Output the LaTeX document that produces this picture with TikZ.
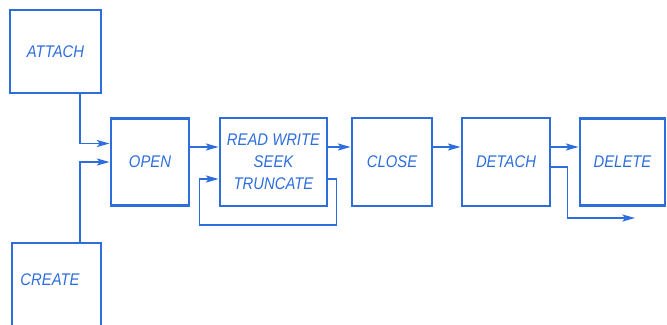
\documentclass[tikz,border=0pt]{standalone}
\usepackage{fontspec}
\newfontfamily\handfont[FakeStretch=0.88]{Liberation Sans}
\usetikzlibrary{arrows.meta}
\definecolor{inkblue}{RGB}{45,110,220}

\begin{document}
\begin{tikzpicture}[x=0.025cm,y=-0.025cm]
    \tikzstyle{every node}=[font=\handfont\itshape\fontsize{12}{15.5}\selectfont, text=inkblue]
    \tikzstyle{blockbox}=[draw=inkblue, line width=2pt, inner sep=0pt, align=center]
    \tikzstyle{flowarrow}=[draw=inkblue, line width=1.3pt, -{Stealth[length=9pt,width=5pt,inset=2pt]}]

    \useasboundingbox (0,0) rectangle (667,324);

    % Sources (ATTACH, CREATE)
    \node[blockbox, minimum width=2.275cm, minimum height=2.075cm] (attach) at (55.5,51.5) {ATTACH};
    \node[blockbox, minimum width=2.225cm, minimum height=2.3cm] (create) at (56.5,289) {};
    \node (createlbl) at (50,280) {CREATE};

    % Main row (OPEN to DELETE)
    \node[blockbox, minimum width=1.95cm, minimum height=2.175cm] (open) at (150,162) {OPEN};
    \node[blockbox, minimum width=2.675cm, minimum height=2.2cm] (rw) at (273.5,162) {READ WRITE\\SEEK\\TRUNCATE};
    \node[blockbox, minimum width=2cm, minimum height=2.2cm] (close) at (392,162) {CLOSE};
    \node[blockbox, minimum width=2.2cm, minimum height=2.2cm] (detach) at (506,162) {DETACH};
    \node[blockbox, minimum width=2.125cm, minimum height=2.175cm] (delete) at (622.5,162) {DELETE};
    \coordinate (exitpt) at (635,218);

    % Into OPEN
    \draw[flowarrow] ([xshift=0.6125cm]attach.south) |- ([yshift=0.4625cm]open.west);
    \draw[flowarrow] ([xshift=0.5875cm]create.north) |- (open.west);

    % Along the row
    \draw[flowarrow] ([yshift=0.375cm]open.east) -- ([yshift=0.375cm]rw.west);
    \draw[flowarrow] ([yshift=0.375cm]rw.east) -- ([yshift=0.375cm]close.west);
    \draw[flowarrow] ([yshift=0.375cm]close.east) -- ([yshift=0.375cm]detach.west);
    \draw[flowarrow] ([yshift=0.375cm]detach.east) -- ([yshift=0.375cm]delete.west);

    % Loop back and exit
    \draw[flowarrow] ([yshift=-0.425cm]rw.east) -- ++(8,0) -- ++(0,46) -- ++(-137,0) |- ([yshift=-0.425cm]rw.west);
    \draw[flowarrow] ([yshift=-0.125cm]detach.east) -- ++(16,0) |- (exitpt);

\end{tikzpicture}
\end{document}
